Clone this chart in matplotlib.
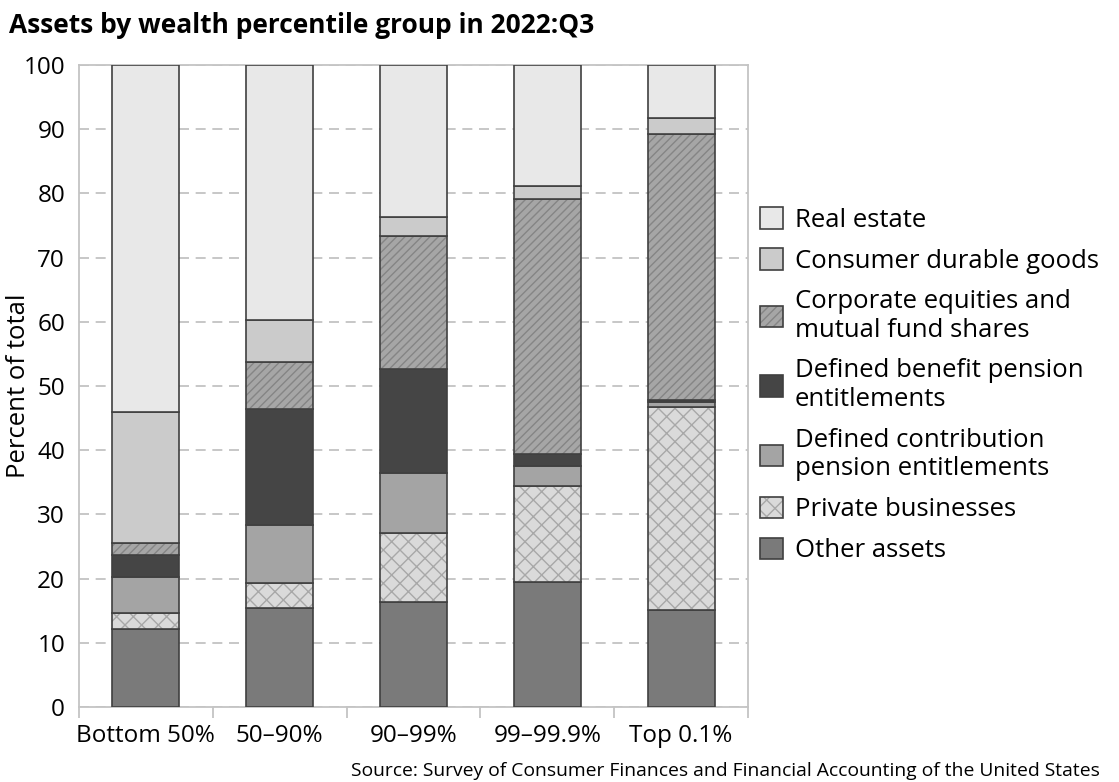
import numpy as np
import matplotlib.pyplot as plt
from matplotlib.colors import to_rgba

plt.rcParams['font.family'] = ['Open Sans', 'DejaVu Sans']
plt.rcParams['hatch.linewidth'] = 1.0

# Groups and series (percent of total assets), bottom to top of each stack
groups = ['Bottom 50%', '50–90%', '90–99%', '99–99.9%', 'Top 0.1%']
other_assets = [12.2, 15.4, 16.3, 19.5, 15.1]
private_business = [2.5, 3.9, 10.8, 15.0, 31.7]
defined_contrib = [5.5, 9.1, 9.4, 3.0, 0.7]
defined_benefit = [3.5, 18.0, 16.2, 1.9, 0.3]
corp_equities = [1.9, 7.3, 20.7, 39.8, 41.4]
consumer_durables = [20.4, 6.6, 2.9, 2.0, 2.5]
real_estate = [54.0, 39.7, 23.7, 18.8, 8.3]

series = [
    ('Other assets', other_assets, '#7a7a7a', None, None),
    ('Private businesses', private_business, '#dadada', 'xx', '#a8a8a8'),
    ('Defined contribution\npension entitlements', defined_contrib, '#a4a4a4', None, None),
    ('Defined benefit pension\nentitlements', defined_benefit, '#454545', None, None),
    ('Corporate equities and\nmutual fund shares', corp_equities, '#a6a6a6', '////', '#858585'),
    ('Consumer durable goods', consumer_durables, '#cbcbcb', None, None),
    ('Real estate', real_estate, '#e8e8e8', None, None),
]

fig = plt.figure(figsize=(11.19, 7.82), dpi=100)
ax = fig.add_axes([79 / 1119, 75 / 782, 669 / 1119, 642 / 782])

x = np.arange(len(groups))
bottom = np.zeros(len(groups))
handles = []
for label, vals, color, hatch, hcolor in series:
    vals = np.array(vals)
    b = ax.bar(x, vals, 0.5, bottom=bottom, color=color, edgecolor='#404040',
               linewidth=1.2, label=label, zorder=3)
    if hatch:
        for p in b:
            p.set_hatch(hatch)
            p._hatch_color = to_rgba(hcolor)
    handles.append(b)
    bottom += vals

ax.set_ylim(0, 100)
ax.set_xlim(-0.5, 4.5)
ax.set_yticks(np.arange(0, 101, 10))
ax.yaxis.grid(True, linestyle=(0, (6, 4)), color='#bdbdbd', linewidth=1.2, zorder=0)
ax.set_xticks(x)
ax.set_xticklabels(groups)
ax.set_xticks(np.arange(-0.5, 4.6, 1), minor=True)
ax.tick_params(axis='x', which='major', length=0, pad=12, labelsize=17.5)
ax.tick_params(axis='x', which='minor', length=8, color='#c4c4c4', width=1.3)
ax.tick_params(axis='y', length=0, pad=10, labelsize=17.5)
for s in ax.spines.values():
    s.set_color('#c4c4c4')
    s.set_linewidth(1.3)
ax.set_ylabel('Percent of total', fontsize=18.5)
ax.yaxis.set_label_coords(-0.072, 0.5)

fig.legend(handles[::-1], [s[0] for s in series][::-1], loc='upper left',
           bbox_to_anchor=(0.67, 0.748), frameon=False, fontsize=18.5,
           handlelength=0.9, handleheight=0.9, handletextpad=0.45,
           labelspacing=0.6, borderaxespad=0)

fig.text(0.008, 0.95, 'Assets by wealth percentile group in 2022:Q3',
         fontsize=19, fontweight='bold', va='bottom')
fig.text(0.983, 0.003, 'Source: Survey of Consumer Finances and Financial Accounting of the United States',
         fontsize=13.9, ha='right', va='bottom')

fig.savefig('out.png', dpi=100)
